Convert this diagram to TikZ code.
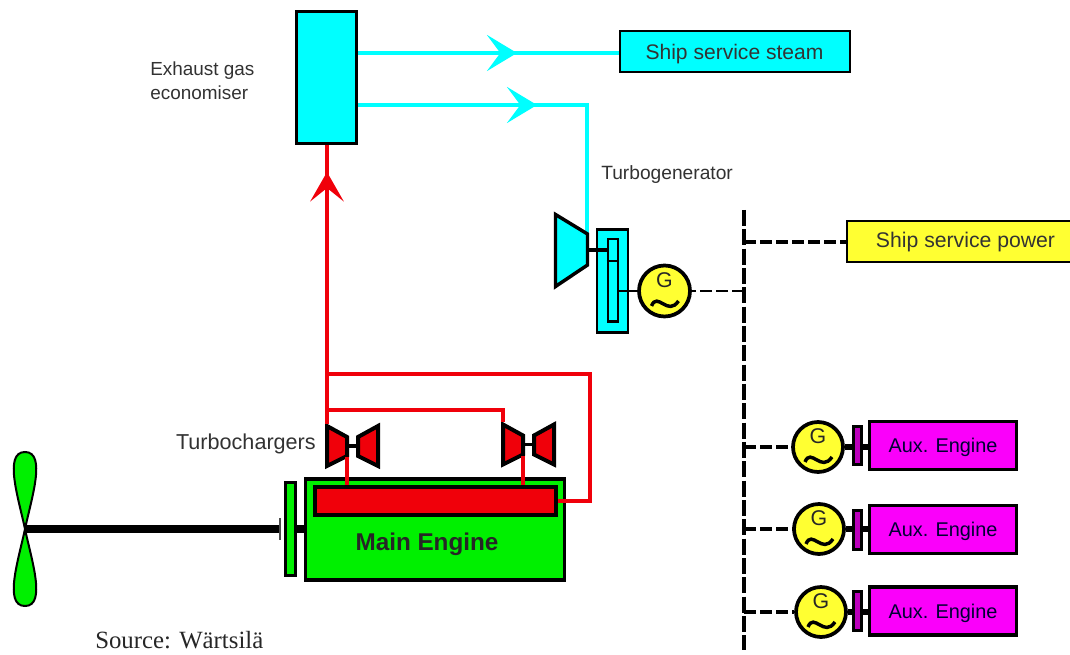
\documentclass[tikz,border=0pt]{standalone}
\usepackage{fontspec}
\setmainfont{Liberation Sans}
\newfontfamily\serifsource{Liberation Serif}
\usepackage{xcolor}
\usepackage{tikz}
\usetikzlibrary{arrows.meta, calc, positioning}
\definecolor{steamcol}{RGB}{0,255,255}
\definecolor{gascol}{RGB}{240,0,10}
\definecolor{enginecol}{RGB}{0,240,0}
\definecolor{auxcol}{RGB}{250,0,250}
\definecolor{gencol}{RGB}{255,255,50}
\definecolor{labelcol}{RGB}{50,50,50}
\tikzset{
    box/.style={rectangle, draw=black, inner sep=0pt, text centered},
    steambox/.style={box, line width=1.5pt, fill=steamcol, text depth=0pt, text=black!80, font=\fontsize{15.8}{18}\selectfont},
    powerbox/.style={box, line width=1.5pt, fill=gencol, text=black!80, font=\fontsize{15.9}{18}\selectfont},
    auxbox/.style={box, line width=2.6pt, fill=auxcol, minimum width=110pt, minimum height=36pt, text depth=0pt, text=black!80!blue, font=\fontsize{14.9}{18}\selectfont},
    clutch/.style={box, line width=2.25pt, fill=auxcol!75!black, minimum width=6.5pt, minimum height=29pt},
    gen/.style={circle, draw=black, line width=2.8pt, fill=gencol, inner sep=0pt, minimum size=37.5pt,
        label={[yshift=8pt, inner sep=0pt, font=\fontsize{16}{18}\selectfont, text=black!85]center:G}},
    wave/.style={line width=2.6pt, black},
    turbine/.style={draw=black, line width=2.6pt, line join=miter},
    tag/.style={inner sep=0pt, text=labelcol, align=left},
    steam/.style={steamcol, line width=3.6pt},
    gas/.style={gascol, line width=3pt},
    shaft/.style={black, line width=5pt},
    thinshaft/.style={black, line width=2pt},
    bus/.style={black, line width=2.4pt, dash pattern=on 12pt off 2.5pt},
    feeder/.style={black, line width=2.2pt, dash pattern=on 9pt off 3pt},
    chevron/.style={-{Stealth[length=22.5pt, width=27pt, inset=10pt]}}
}
\begin{document}
\begin{tikzpicture}[x=0.75pt, y=-0.75pt]
    \useasboundingbox (0,0) rectangle (1070,655);

    % Steam side
    \node[box, line width=2.6pt, fill=steamcol, minimum width=45pt, minimum height=99pt] (econ) at (326.5,77.5) {};
    \node[steambox, minimum width=172.5pt, minimum height=30.75pt] (steamuser) at (734.5,52) {Ship service steam};
    \node[tag, anchor=west, font=\fontsize{14.2}{18}\selectfont] (econlabel) at (150,81) {Exhaust gas\\economiser};
    \coordinate (tipa) at (517,53);
    \coordinate (tipb) at (537,105);
    \coordinate (econb) at (358,105);
    \coordinate (steamin) at (587,236);
    \draw[steam] (econ.east |- tipa) -- (steamuser.west |- tipa);
    \draw[steam, chevron] (econ.east |- tipa) -- (tipa);
    \draw[steam, line width=3pt] (econb) -| (steamin);
    \draw[steam, line width=3pt, chevron] (econb) -- (tipb);

    % Turbogenerator
    \draw[turbine, fill=steamcol] (555.5,214.5) -- (587.5,234) -- (587.5,265) -- (555.5,286.5) -- cycle;
    \node[box, line width=2pt, fill=steamcol, minimum width=23.25pt, minimum height=77pt] (gearbox) at (612.5,281) {};
    \node[box, line width=2pt, fill=steamcol, minimum width=7.5pt, minimum height=62pt] (gear) at (613,280.5) {};
    \node[gen, minimum size=38.25pt] (gent) at (664.5,291) {};
    \node[tag, anchor=west, font=\fontsize{14.4}{18}\selectfont] (turbolabel) at (601,175) {Turbogenerator};
    \coordinate (turbout) at (587.5,250);
    \draw[thinshaft, line width=3pt] (turbout) -- (gear.west |- turbout);
    \draw[thinshaft, line width=1.5pt] (gear.west |- 0,261) -- (gear.east |- 0,261);
    \draw[thinshaft] (gear.east |- gent) -- (gent.west);

    % Electrical bus
    \coordinate (bustop) at (744,210);
    \coordinate (busend) at (744,650);
    \draw[bus] (bustop) -- (busend);
    \node[powerbox, minimum width=177.75pt, minimum height=30.75pt] (power) at (965.5,242) {Ship service power};
    \draw[feeder, line width=2.6pt] (power.west -| bustop) -- (power.west);
    \draw[feeder] (gent.east -| bustop) -- (gent.east);

    % Auxiliary engines
    \foreach \n/\gx/\gy/\cy/\ey in {a/818/447/445.5/445.5, b/819/529/530/529.5, c/821/612/611/611}{
        \node[gen] (gen\n) at (\gx,\gy) {};
        \node[clutch] (clutch\n) at (857.5,\cy) {};
        \node[auxbox] (aux\n) at (943,\ey) {Aux. Engine};
        \draw[shaft] (gen\n.east) -- (clutch\n.west |- gen\n);
        \draw[shaft] (clutch\n.east |- gen\n) -- (aux\n.west |- gen\n);
        \draw[feeder, line width=2.5pt] (gen\n.west -| bustop) -- (gen\n.west);
    }
    \foreach \g in {gent,gena,genb,genc}{
        \draw[wave] ($(\g)+(-13,15)$) .. controls ($(\g)+(-7,0)$) and ($(\g)+(3,26)$) .. ($(\g)+(14,10)$);
    }

    % Main engine and shaft line
    \node[box, line width=2.6pt, fill=enginecol, minimum width=194.25pt, minimum height=76pt] (engine) at (435,529.5) {};
    \node[box, line width=2.6pt, fill=gascol, minimum width=180.75pt, minimum height=21pt] (manifold) at (435.5,501) {};
    \node[inner sep=0pt, font=\bfseries\fontsize{18.2}{20}\selectfont, text=black!85] (enginelabel) at (427,544) {Main Engine};
    \node[box, line width=2.25pt, fill=enginecol, minimum width=7.5pt, minimum height=70pt] (flange) at (290.5,529) {};
    \coordinate (prop) at (25,529);
    \coordinate (tick) at (280,529);
    \draw[shaft, line width=6pt] (prop) -- (tick);
    \draw[black!70, line width=2pt] ($(tick)+(0,-11)$) -- ($(tick)+(0,11)$);
    \draw[shaft, line width=6pt] (flange.east |- tick) -- (engine.west |- tick);
    \draw[turbine, line width=1.5pt, fill=enginecol] (prop) .. controls (19,500) and (3,452) .. (25,452) .. controls (47,452) and (31,500) .. (prop);
    \draw[turbine, line width=1.5pt, fill=enginecol] (prop) .. controls (19,558) and (3,606) .. (25,606) .. controls (47,606) and (31,558) .. (prop);

    % Turbochargers
    \foreach \n/\x/\y in {a/327/446, b/503/444.5}{
        \draw[turbine, line width=3pt, fill=gascol] (\x,\y-20) -- (\x+20,\y-9) -- (\x+20,\y+10) -- (\x,\y+20) -- cycle;
        \draw[turbine, line width=3pt, fill=gascol] (\x+51,\y-20) -- (\x+31,\y-9) -- (\x+31,\y+10) -- (\x+51,\y+20) -- cycle;
        \coordinate (tc\n) at (\x+20,\y);
        \coordinate (tcr\n) at (\x+31,\y);
        \draw[thinshaft, line width=2.6pt] (tc\n) -- (tcr\n);
    }
    \node[tag, anchor=east, font=\fontsize{16.2}{18}\selectfont] (tclabel) at (316,444) {Turbochargers};

    % Exhaust gas lines
    \coordinate (gasroot) at (327,424);
    \coordinate (gastip) at (327,172);
    \coordinate (gasout) at (590,374);
    \coordinate (gasmid) at (503,410);
    \draw[gas, line width=3.6pt] (gasroot) -- (gastip |- econ.south);
    \draw[gas, line width=3.6pt, -{Stealth[length=22pt, width=25pt, inset=10pt]}] (gasroot) -- (gastip);
    \draw[gas] (gasroot |- gasmid) -- (gasmid) -- (503,422);
    \draw[gas] (gasroot |- gasout) -| (590,501) -- (manifold.east |- 0,501);
    \draw[gas, line width=2.6pt] (tca |- 0,457) -- (tca |- manifold.north);
    \draw[gas, line width=2.6pt] (tcb |- 0,456) -- (tcb |- manifold.north);

    % Source line
    \node[inner sep=0pt, anchor=west, font=\serifsource\fontsize{18.6}{20}\selectfont, text=black!85] (source) at (95,640) {Source: Wärtsilä};
\end{tikzpicture}
\end{document}
